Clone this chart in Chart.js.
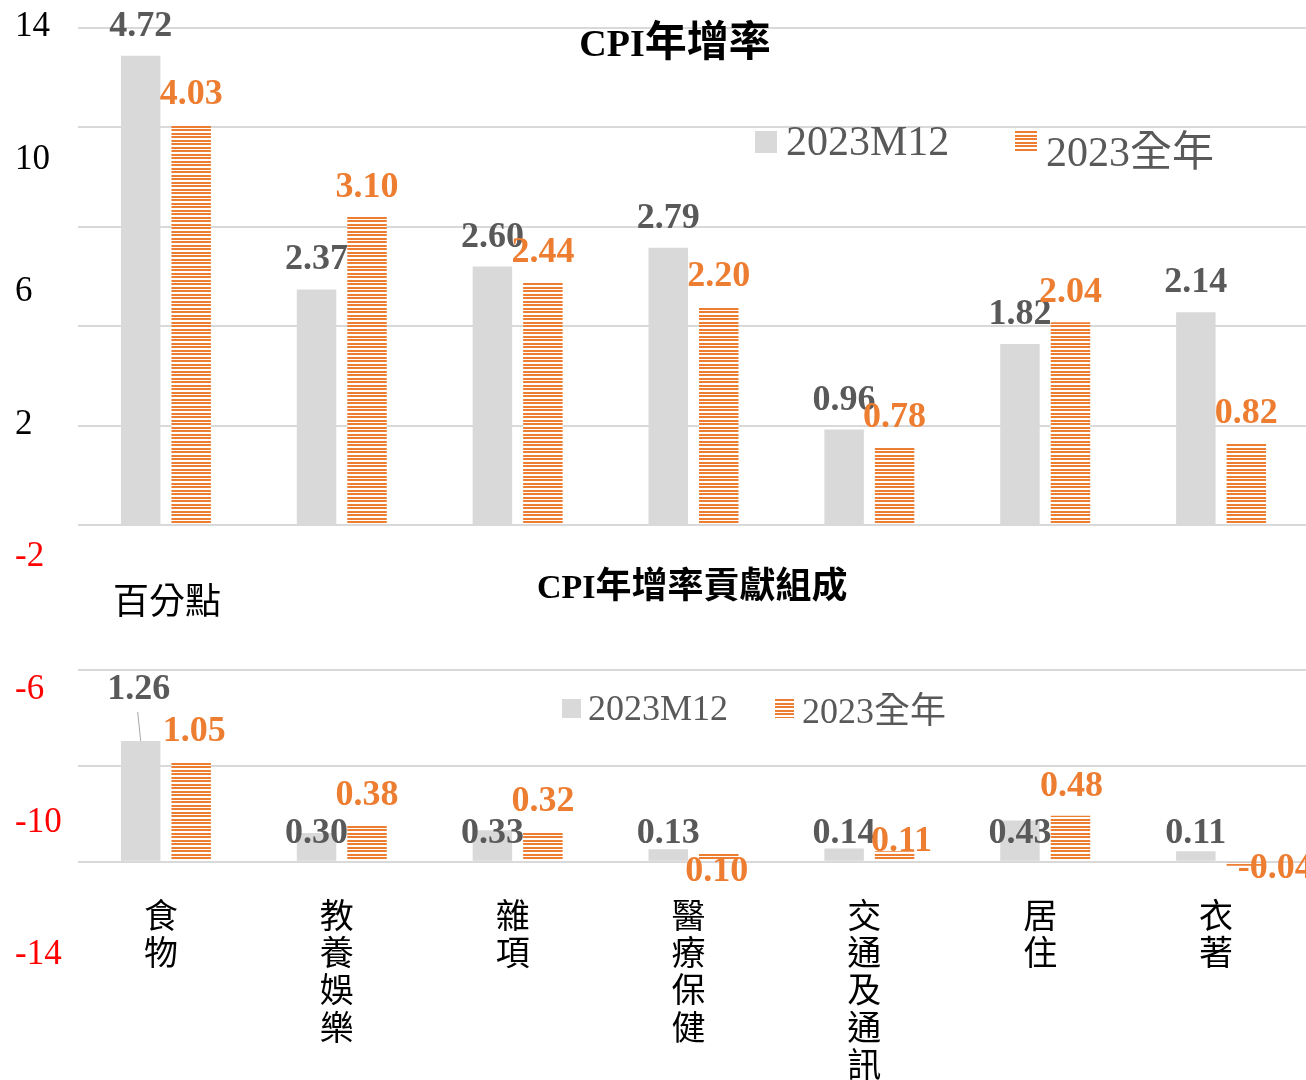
<!DOCTYPE html>
<html>
<head>
<meta charset="utf-8">
<script src="https://cdn.jsdelivr.net/npm/chart.js@4.4.1/dist/chart.umd.min.js"></script>
<style>
  html, body { margin: 0; padding: 0; background: #fff; overflow: hidden; }
  #wrap { position: relative; width: 1306px; height: 1080px; overflow: hidden; }
  #wrap canvas { position: absolute; left: 0; top: 0; }
  .txt { position: absolute; white-space: nowrap; line-height: 1; }
  .serif { font-family: 'Liberation Serif', 'Noto Sans CJK TC', serif; }
  .cjk { font-family: 'Noto Sans CJK TC', sans-serif; }
  .key { position: absolute; }
  .gray { background: #D9D9D9; }
  .hatch { background: repeating-linear-gradient(to bottom, #ED7D31 0 2px, #fff 2px 3.6px); }
</style>
</head>
<body>
<div id="wrap">
  <canvas id="axis" width="1310" height="1080"></canvas>
  <canvas id="rate" width="1310" height="1080"></canvas>
  <canvas id="contrib" width="1310" height="1080"></canvas>

  <div class="txt cjk" id="title1" style="left:675px; top:17px; font-size:42px; font-weight:bold; transform:translateX(-50%);"><span class="serif" style="font-size:38px">CPI</span>年增率</div>
  <div class="key gray" style="left:755px; top:131px; width:22px; height:22px;"></div>
  <div class="txt serif" style="left:786px; top:120px; font-size:42px; color:#595959;">2023M12</div>
  <div class="key hatch" style="left:1015px; top:131px; width:22px; height:22px;"></div>
  <div class="txt serif" style="left:1046px; top:131px; font-size:42px; color:#595959;">2023全年</div>

  <div class="txt cjk" style="left:113px; top:580px; font-size:36px; color:#000;">百分點</div>
  <div class="txt cjk" id="title2" style="left:537px; top:564px; font-size:36px; font-weight:bold;"><span class="serif" style="font-size:34px">CPI</span>年增率貢獻組成</div>
  <div class="key gray" style="left:562px; top:699px; width:19px; height:19px;"></div>
  <div class="txt serif" style="left:588px; top:690px; font-size:36px; color:#595959;">2023M12</div>
  <div class="key hatch" style="left:775px; top:699px; width:19px; height:19px;"></div>
  <div class="txt serif" style="left:802px; top:693px; font-size:36px; color:#595959;">2023全年</div>
</div>

<script>
// CPI components, year-on-year growth and contribution (percentage points)
const categories = ['食物', '教養娛樂', '雜項', '醫療保健', '交通及通訊', '居住', '衣著'];
const seriesNames = ['2023M12', '2023全年'];
const rateM12 = [4.72, 2.37, 2.60, 2.79, 0.96, 1.82, 2.14];
const rateYear = [4.03, 3.10, 2.44, 2.20, 0.78, 2.04, 0.82];
const contribM12 = [1.26, 0.30, 0.33, 0.13, 0.14, 0.43, 0.11];
const contribYear = [1.05, 0.38, 0.32, 0.10, 0.11, 0.48, -0.04];
const axisTicks = [14, 10, 6, 2, -2, -6, -10, -14];

const SERIF = "'Liberation Serif', 'Noto Sans CJK TC', serif";
const CJK = "'Noto Sans CJK TC', sans-serif";
const GRAY = '#D9D9D9';
const ORANGE = '#ED7D31';
const GRID = '#D9D9D9';

// horizontal orange stripes for the full-year bars
function stripes() {
  const c = document.createElement('canvas');
  c.width = 8; c.height = 7;
  const g = c.getContext('2d');
  g.fillStyle = '#ffffff';
  g.fillRect(0, 0, 8, 7);
  g.fillStyle = ORANGE;
  g.fillRect(0, 0, 8, 2);
  g.fillRect(0, 3, 8, 2);
  return g.createPattern(c, 'repeat');
}

// value labels above each bar, with optional nudges and leader lines
const barValues = {
  id: 'barValues',
  afterDatasetsDraw(chart, args, opts) {
    const ctx = chart.ctx;
    ctx.save();
    ctx.font = 'bold 36px ' + SERIF;
    ctx.textAlign = 'center';
    ctx.textBaseline = 'alphabetic';
    chart.data.datasets.forEach((ds, di) => {
      const meta = chart.getDatasetMeta(di);
      const shift = (opts.shifts && opts.shifts[di]) || [];
      meta.data.forEach((bar, i) => {
        const s = shift[i] || [0, 0];
        ctx.fillStyle = ds.labelColor;
        ctx.fillText(ds.data[i].toFixed(2), bar.x + s[0], bar.y - 20 + s[1]);
      });
    });
    (opts.leaders || []).forEach(l => {
      const bar = chart.getDatasetMeta(l[0]).data[l[1]];
      ctx.strokeStyle = '#A6A6A6';
      ctx.lineWidth = 1;
      ctx.beginPath();
      ctx.moveTo(bar.x + l[2], bar.y + l[3]);
      ctx.lineTo(bar.x, bar.y);
      ctx.stroke();
    });
    ctx.restore();
  }
};

const barStyle = { barPercentage: 0.782, categoryPercentage: 0.5743 };
const common = {
  responsive: false,
  animation: false,
  devicePixelRatio: 1,
  events: []
};

// shared left axis
new Chart(document.getElementById('axis'), {
  type: 'bar',
  data: { labels: [], datasets: [] },
  options: Object.assign({}, common, {
    layout: { padding: { left: 15, right: 0, top: 27, bottom: 125 } },
    plugins: { legend: { display: false }, tooltip: { enabled: false } },
    scales: {
      x: { display: false },
      y: {
        min: -14, max: 14,
        afterBuildTicks: s => { s.ticks = axisTicks.map(v => ({ value: v })); },
        ticks: {
          crossAlign: 'far',
          font: { family: SERIF, size: 35 },
          color: c => c.tick.value < 0 ? '#FF0000' : '#000000'
        },
        grid: { display: false, drawTicks: false },
        border: { display: false }
      }
    }
  })
});

// upper panel: growth rates
new Chart(document.getElementById('rate'), {
  type: 'bar',
  data: {
    labels: categories,
    datasets: [
      Object.assign({ label: seriesNames[0], data: rateM12, backgroundColor: GRAY, labelColor: '#595959' }, barStyle),
      Object.assign({ label: seriesNames[1], data: rateYear, backgroundColor: stripes(), labelColor: ORANGE }, barStyle)
    ]
  },
  options: Object.assign({}, common, {
    layout: { padding: { left: 78, right: 1, top: 28, bottom: 555 } },
    plugins: { legend: { display: false }, tooltip: { enabled: false }, barValues: {} },
    scales: {
      x: { display: false },
      y: {
        min: 0, max: 5,
        ticks: { display: false, stepSize: 1 },
        grid: { color: GRID, lineWidth: 2, drawTicks: false },
        border: { display: false }
      }
    }
  }),
  plugins: [barValues]
});

// lower panel: contributions
new Chart(document.getElementById('contrib'), {
  type: 'bar',
  data: {
    labels: categories.map(c => Array.from(c)),
    datasets: [
      Object.assign({ label: seriesNames[0], data: contribM12, backgroundColor: GRAY, labelColor: '#595959' }, barStyle),
      Object.assign({ label: seriesNames[1], data: contribYear, backgroundColor: stripes(), labelColor: ORANGE }, barStyle)
    ]
  },
  options: Object.assign({}, common, {
    layout: { padding: { left: 78, right: 1, top: 622, bottom: 0 } },
    plugins: {
      legend: { display: false },
      tooltip: { enabled: false },
      barValues: {
        shifts: [
          [[-2, -22], [0, 30], [0, 32.5], [0, 13.4], [0, 14.4], [0, 42], [0, 11.5]],
          [[3, 0], [0, 0], [0, 0], [-2, 48.5], [7, 19.5], [1, 0], [29, 32.5]]
        ],
        leaders: [[0, 0, -3, -29]]
      }
    },
    scales: {
      x: {
        ticks: {
          font: { family: CJK, size: 34, lineHeight: 1.1 },
          color: '#000000',
          padding: 15,
          labelOffset: -5,
          autoSkip: false,
          maxRotation: 0,
          minRotation: 0
        },
        grid: { display: false, drawTicks: false },
        border: { display: false },
        afterFit: s => { s.height = 199; }
      },
      y: {
        min: -0.2, max: 2.5,
        afterBuildTicks: s => { s.ticks = [0, 1, 2].map(v => ({ value: v })); },
        ticks: { display: false },
        grid: { color: GRID, lineWidth: 2, drawTicks: false },
        border: { display: false }
      }
    }
  }),
  plugins: [barValues]
});
</script>
</body>
</html>
